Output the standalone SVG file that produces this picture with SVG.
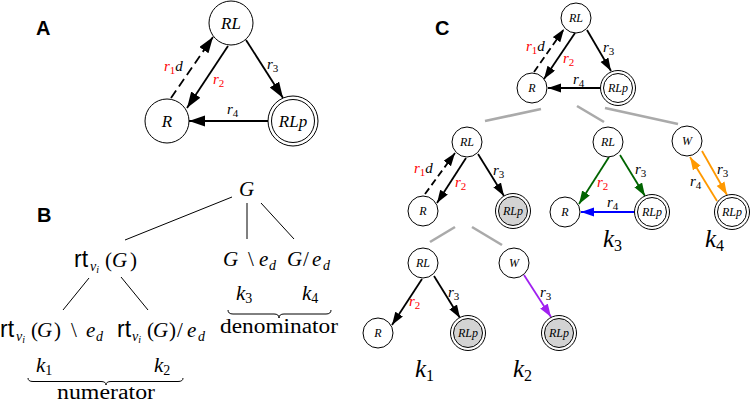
<svg xmlns="http://www.w3.org/2000/svg" width="750" height="403" viewBox="0 0 750 403">
<style>
.bg{fill:#fff}
.n{fill:#fff;stroke:#000;stroke-width:1}
.sh{fill:#d3d3d3;stroke:#000;stroke-width:1}
.e{fill:none;stroke:#000;stroke-width:1.8}
.dash{stroke-dasharray:9 5}
.dashc{stroke-dasharray:7 4}
.gr{fill:none;stroke:#aaa;stroke-width:2.6}
.tl{fill:none;stroke:#000;stroke-width:1}
.pl{font-family:'Liberation Sans',Arial,sans-serif;font-weight:bold;font-size:20px}
.ntA{font-family:'Liberation Serif','Times New Roman','DejaVu Serif',serif;font-style:italic;font-size:17px;text-anchor:middle}
.ntC{font-family:'Liberation Serif','Times New Roman','DejaVu Serif',serif;font-style:italic;font-size:12px;text-anchor:middle}
.lab{font-family:'Liberation Serif','Times New Roman','DejaVu Serif',serif;font-style:italic;font-size:15px}
.sub{font-style:normal;font-size:11px}
.red{fill:#f00}
.m{font-family:'Liberation Serif','Times New Roman','DejaVu Serif',serif;font-style:italic;font-size:21px}
.rm{font-family:'Liberation Serif','Times New Roman','DejaVu Serif',serif;font-style:normal;font-size:21px}
.sf{font-family:'Liberation Sans',Arial,sans-serif;font-size:23px}
.s14{font-size:14px}
.s10{font-size:10px}
.kC{font-family:'Liberation Serif','Times New Roman','DejaVu Serif',serif;font-style:italic;font-size:25px}
.kCs{font-style:normal;font-size:16px}
.kB{font-family:'Liberation Serif','Times New Roman','DejaVu Serif',serif;font-style:italic;font-size:21px}
.kBs{font-style:normal;font-size:14px}
.word{font-family:'Liberation Serif','Times New Roman','DejaVu Serif',serif;font-size:20px}
</style>
<defs>
<marker id="aA" markerUnits="userSpaceOnUse" markerWidth="17" markerHeight="12" refX="16" refY="5.5" orient="auto"><path d="M0,0 L16,5.5 L0,11 z" fill="#000"/></marker>
<marker id="aK" markerUnits="userSpaceOnUse" markerWidth="14" markerHeight="10" refX="13" refY="4.5" orient="auto"><path d="M0,0 L13,4.5 L0,9 z" fill="#000"/></marker>
<marker id="aG" markerUnits="userSpaceOnUse" markerWidth="14" markerHeight="10" refX="13" refY="4.5" orient="auto"><path d="M0,0 L13,4.5 L0,9 z" fill="#006400"/></marker>
<marker id="aB" markerUnits="userSpaceOnUse" markerWidth="14" markerHeight="10" refX="13" refY="4.5" orient="auto"><path d="M0,0 L13,4.5 L0,9 z" fill="#0000ff"/></marker>
<marker id="aO" markerUnits="userSpaceOnUse" markerWidth="14" markerHeight="10" refX="13" refY="4.5" orient="auto"><path d="M0,0 L13,4.5 L0,9 z" fill="#ff9900"/></marker>
<marker id="aP" markerUnits="userSpaceOnUse" markerWidth="14" markerHeight="10" refX="13" refY="4.5" orient="auto"><path d="M0,0 L13,4.5 L0,9 z" fill="#a020f0"/></marker>
</defs>
<rect class="bg" x="0" y="0" width="750" height="403"/>

<!-- panel labels -->
<text class="pl" x="36" y="35">A</text>
<text class="pl" x="37" y="222">B</text>
<text class="pl" x="435" y="35">C</text>

<!-- ===== Panel A ===== -->
<g id="connectors-A">
<line class="e dash" x1="171" y1="98" x2="213" y2="37" marker-end="url(#aA)"/>
<line class="e" x1="228" y1="46" x2="187" y2="108" marker-end="url(#aA)"/>
<line class="e" x1="246" y1="40" x2="283" y2="98" marker-end="url(#aA)"/>
<line class="e" x1="268" y1="121" x2="189" y2="121" marker-end="url(#aA)"/>
<text class="lab" x="164" y="71"><tspan class="red">r</tspan><tspan class="sub red" dy="3">1</tspan><tspan dy="-3">d</tspan></text>
<text class="lab" x="213" y="84"><tspan class="red">r</tspan><tspan class="sub red" dy="3">2</tspan></text>
<text class="lab" x="267" y="69">r<tspan class="sub" dy="3">3</tspan></text>
<text class="lab" x="227" y="114">r<tspan class="sub" dy="3">4</tspan></text>
</g>
<g id="A-RL"><circle class="n" cx="231" cy="23" r="22"/><text class="ntA" x="231" y="29">RL</text></g>
<g id="A-R"><circle class="n" cx="167" cy="121" r="22"/><text class="ntA" x="167" y="127">R</text></g>
<g id="A-RLp"><circle class="n" cx="293" cy="121" r="25"/><circle class="n" cx="293" cy="121" r="21.5"/><text class="ntA" x="293" y="127">RLp</text></g>

<!-- ===== Panel B ===== -->
<g id="connectors-B">
<line class="tl" x1="232" y1="197" x2="125" y2="240"/>
<line class="tl" x1="247" y1="203" x2="247" y2="239"/>
<line class="tl" x1="261" y1="203" x2="294" y2="239"/>
<line class="tl" x1="89" y1="278" x2="63" y2="310"/>
<line class="tl" x1="121" y1="277" x2="148" y2="310"/>
</g>
<g id="B-G"><text class="m" x="239" y="196">G</text></g>
<g id="B-rt">
<text y="267"><tspan class="sf" x="74">rt</tspan><tspan class="m s14" x="90" dy="4">v</tspan><tspan class="m s10" dy="2">i</tspan><tspan class="rm" x="105" dy="-6">(</tspan><tspan class="m" x="112">G</tspan><tspan class="rm" x="130">)</tspan></text>
</g>
<g id="B-del">
<text y="266"><tspan class="m" x="223">G</tspan><tspan class="rm" x="248">\</tspan><tspan class="m" x="259">e</tspan><tspan class="m s14" x="269" dy="4">d</tspan></text>
</g>
<g id="B-con">
<text y="266"><tspan class="m" x="287">G</tspan><tspan class="rm" x="303">/</tspan><tspan class="m" x="312">e</tspan><tspan class="m s14" x="323" dy="4">d</tspan></text>
</g>
<g id="B-rtdel">
<text y="337"><tspan class="sf" x="0">rt</tspan><tspan class="m s14" x="16" dy="4">v</tspan><tspan class="m s10" dy="2">i</tspan><tspan class="rm" x="31" dy="-6">(</tspan><tspan class="m" x="37">G</tspan><tspan class="rm" x="54">)</tspan><tspan class="rm" x="71">\</tspan><tspan class="m" x="86">e</tspan><tspan class="m s14" x="96" dy="4">d</tspan></text>
</g>
<g id="B-rtcon">
<text y="337"><tspan class="sf" x="117">rt</tspan><tspan class="m s14" x="132" dy="4">v</tspan><tspan class="m s10" dy="2">i</tspan><tspan class="rm" x="147" dy="-6">(</tspan><tspan class="m" x="153">G</tspan><tspan class="rm" x="169">)</tspan><tspan class="rm" x="177">/</tspan><tspan class="m" x="187">e</tspan><tspan class="m s14" x="198" dy="4">d</tspan></text>
</g>
<g id="B-k">
<text class="kB" x="236" y="300">k<tspan class="kBs" dy="3">3</tspan></text>
<text class="kB" x="302" y="300">k<tspan class="kBs" dy="3">4</tspan></text>
<text class="kB" x="36" y="372">k<tspan class="kBs" dy="3">1</tspan></text>
<text class="kB" x="154" y="372">k<tspan class="kBs" dy="3">2</tspan></text>
<path class="tl" d="M228,310 Q228,314 233,314 L274,314 Q279,314 279,318 Q279,314 284,314 L326,314 Q331,314 331,310"/>
<path class="tl" d="M28,378 Q28,381.5 33,381.5 L101,381.5 Q106,381.5 106,385 Q106,381.5 111,381.5 L178,381.5 Q183,381.5 183,378"/>
<text class="word" x="220" y="333" textLength="118" lengthAdjust="spacingAndGlyphs">denominator</text>
<text class="word" x="57" y="399" textLength="98" lengthAdjust="spacingAndGlyphs">numerator</text>
</g>

<!-- ===== Panel C ===== -->
<g id="connectors-C">
<line class="gr" x1="485" y1="121" x2="541" y2="109"/>
<line class="gr" x1="577" y1="106" x2="604" y2="122"/>
<line class="gr" x1="605" y1="108" x2="678" y2="124"/>
<line class="gr" x1="430" y1="242" x2="455" y2="227"/>
<line class="gr" x1="472" y1="227" x2="502" y2="245"/>
<line class="e dashc" x1="534" y1="72" x2="564" y2="29" marker-end="url(#aK)"/>
<line class="e" x1="575" y1="33" x2="544" y2="79" marker-end="url(#aK)"/>
<line class="e" x1="587" y1="30" x2="611" y2="71" marker-end="url(#aK)"/>
<line class="e" x1="600" y1="88" x2="548" y2="88" marker-end="url(#aK)"/>
<text class="lab" x="526" y="51"><tspan class="red">r</tspan><tspan class="sub red" dy="3">1</tspan><tspan dy="-3">d</tspan></text>
<text class="lab" x="563" y="63"><tspan class="red">r</tspan><tspan class="sub red" dy="3">2</tspan></text>
<text class="lab" x="603" y="52">r<tspan class="sub" dy="3">3</tspan></text>
<text class="lab" x="573" y="84">r<tspan class="sub" dy="3">4</tspan></text>
<line class="e dashc" x1="425" y1="194" x2="455" y2="153" marker-end="url(#aK)"/>
<line class="e" x1="466" y1="158" x2="437" y2="203" marker-end="url(#aK)"/>
<line class="e" x1="478" y1="154" x2="504" y2="196" marker-end="url(#aK)"/>
<text class="lab" x="414" y="173"><tspan class="red">r</tspan><tspan class="sub red" dy="3">1</tspan><tspan dy="-3">d</tspan></text>
<text class="lab" x="455" y="187"><tspan class="red">r</tspan><tspan class="sub red" dy="3">2</tspan></text>
<text class="lab" x="493" y="175">r<tspan class="sub" dy="3">3</tspan></text>
<line class="e" style="stroke:#006400" x1="609" y1="157" x2="579" y2="204" marker-end="url(#aG)"/>
<line class="e" style="stroke:#006400" x1="620" y1="155" x2="645" y2="196" marker-end="url(#aG)"/>
<line class="e" style="stroke:#0000ff" x1="634" y1="212" x2="581" y2="212" marker-end="url(#aB)"/>
<text class="lab" x="597" y="187"><tspan class="red">r</tspan><tspan class="sub red" dy="3">2</tspan></text>
<text class="lab" x="635" y="174">r<tspan class="sub" dy="3">3</tspan></text>
<text class="lab" x="607" y="207">r<tspan class="sub" dy="3">4</tspan></text>
<line class="e" style="stroke:#ff9900" x1="702" y1="151" x2="727" y2="195" marker-end="url(#aO)"/>
<line class="e" style="stroke:#ff9900" x1="717" y1="201" x2="690" y2="157" marker-end="url(#aO)"/>
<text class="lab" x="717" y="174">r<tspan class="sub" dy="3">3</tspan></text>
<text class="lab" x="690" y="186">r<tspan class="sub" dy="3">4</tspan></text>
<line class="e" x1="422" y1="279" x2="392" y2="325" marker-end="url(#aK)"/>
<line class="e" x1="434" y1="276" x2="460" y2="318" marker-end="url(#aK)"/>
<text class="lab" x="409" y="306"><tspan class="red">r</tspan><tspan class="sub red" dy="3">2</tspan></text>
<text class="lab" x="448" y="297">r<tspan class="sub" dy="3">3</tspan></text>
<line class="e" style="stroke:#a020f0" x1="524" y1="275" x2="551" y2="317" marker-end="url(#aP)"/>
<text class="lab" x="540" y="297">r<tspan class="sub" dy="3">3</tspan></text>
</g>

<g id="C0-RL"><circle class="n" cx="576" cy="18" r="15"/><text class="ntC" x="576" y="22">RL</text></g>
<g id="C0-R"><circle class="n" cx="532" cy="88" r="15"/><text class="ntC" x="532" y="92">R</text></g>
<g id="C0-RLp"><circle class="n" cx="618" cy="88" r="17.5"/><circle class="n" cx="618" cy="88" r="14.5"/><text class="ntC" x="618" y="92">RLp</text></g>

<g id="C1-RL"><circle class="n" cx="467" cy="142" r="15"/><text class="ntC" x="467" y="146">RL</text></g>
<g id="C1-R"><circle class="n" cx="423" cy="211" r="15"/><text class="ntC" x="423" y="215">R</text></g>
<g id="C1-RLp"><circle class="n" cx="513" cy="211" r="17.5"/><circle class="sh" cx="513" cy="211" r="14.5"/><text class="ntC" x="513" y="215">RLp</text></g>

<g id="C3-RL"><circle class="n" cx="608" cy="142" r="15"/><text class="ntC" x="608" y="146">RL</text></g>
<g id="C3-R"><circle class="n" cx="565" cy="212" r="15"/><text class="ntC" x="565" y="216">R</text></g>
<g id="C3-RLp"><circle class="n" cx="652" cy="212" r="17.5"/><circle class="n" cx="652" cy="212" r="14.5"/><text class="ntC" x="652" y="216">RLp</text></g>
<g id="C3-label"><text class="kC" x="603" y="247">k<tspan class="kCs" dy="4">3</tspan></text></g>

<g id="C4-W"><circle class="n" cx="687" cy="141" r="15"/><text class="ntC" x="687" y="145">W</text></g>
<g id="C4-RLp"><circle class="n" cx="732" cy="212" r="17.5"/><circle class="n" cx="732" cy="212" r="14.5"/><text class="ntC" x="732" y="216">RLp</text></g>
<g id="C4-label"><text class="kC" x="705" y="247">k<tspan class="kCs" dy="4">4</tspan></text></g>

<g id="C1a-RL"><circle class="n" cx="423" cy="263" r="15"/><text class="ntC" x="423" y="267">RL</text></g>
<g id="C1a-R"><circle class="n" cx="378" cy="333" r="15"/><text class="ntC" x="378" y="337">R</text></g>
<g id="C1a-RLp"><circle class="n" cx="468" cy="333" r="17.5"/><circle class="sh" cx="468" cy="333" r="14.5"/><text class="ntC" x="468" y="337">RLp</text></g>
<g id="C1a-label"><text class="kC" x="415" y="377">k<tspan class="kCs" dy="4">1</tspan></text></g>

<g id="C2-W"><circle class="n" cx="514" cy="263" r="15"/><text class="ntC" x="514" y="267">W</text></g>
<g id="C2-RLp"><circle class="n" cx="559" cy="333" r="17.5"/><circle class="sh" cx="559" cy="333" r="14.5"/><text class="ntC" x="559" y="337">RLp</text></g>
<g id="C2-label"><text class="kC" x="513" y="377">k<tspan class="kCs" dy="4">2</tspan></text></g>
</svg>
